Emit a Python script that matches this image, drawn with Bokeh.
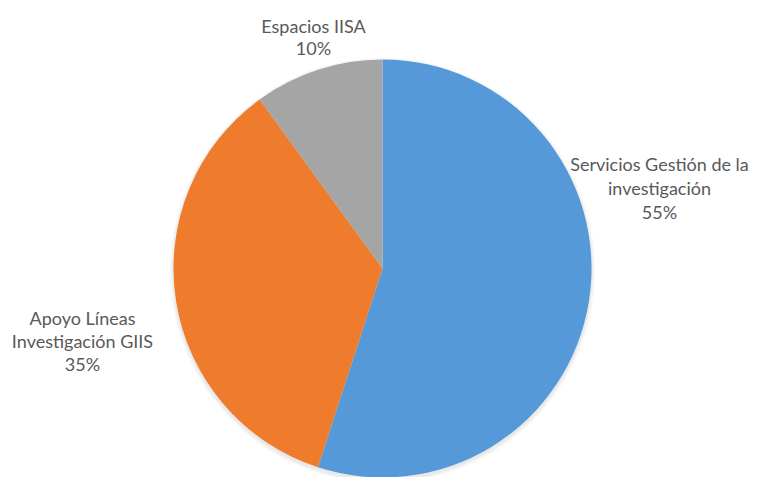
import numpy as np
from bokeh.plotting import figure
from bokeh.embed import file_html
from bokeh.resources import INLINE
from bokeh.core.properties import value
from bokeh.models import ColumnDataSource

# ---- data ----
categories = ["Servicios Gestión de la investigación", "Apoyo Líneas Investigación GIIS", "Espacios IISA"]
values = [55, 35, 10]
colors = ["#5599D8", "#EE7C2C", "#A5A5A5"]
label_lines = [["Servicios Gestión de la", "investigación"], ["Apoyo Líneas", "Investigación GIIS"], ["Espacios IISA"]]

W, H = 752, 477

def px(X, Y):
    # picture coordinates -> plot coordinates
    return X, H - Y

p = figure(width=W, height=H, x_range=(0, W), y_range=(0, H),
           output_backend="svg", toolbar_location=None, min_border=0)
p.axis.visible = False
p.grid.visible = False
p.outline_line_color = None
p.background_fill_color = "white"

cx, cy = px(382, 268)
R = 209

# soft shadow
for i, a in enumerate([0.06, 0.05, 0.04, 0.03]):
    p.circle(x=[cx], y=[cy - 2], radius=R + 1 + i, fill_color="#808080",
             fill_alpha=a, line_color=None)

total = float(sum(values))
fracs = np.array(values) / total
ends = np.pi / 2 - 2 * np.pi * np.cumsum(fracs)
starts = np.concatenate([[np.pi / 2], ends[:-1]])

src = ColumnDataSource(dict(start=starts, end=ends, color=colors, cat=categories))
p.wedge(x=cx, y=cy, radius=R, start_angle="start", end_angle="end",
        direction="clock", fill_color="color", line_color=None, source=src)

# labels
label_pos = [
    (659, [163, 187, 211]),
    (82, [317, 340, 363]),
    (313, [25, 47]),
]
tx, ty, tt = [], [], []
for lines, v, (X, Ys) in zip(label_lines, values, label_pos):
    texts = lines + [f"{round(100 * v / total)}%"]
    for t, Y in zip(texts, Ys):
        x, y = px(X, Y)
        tx.append(x); ty.append(y); tt.append(t)

p.text(x=tx, y=ty, text=tt, text_align="center", text_baseline="middle",
       text_font=value("Lato"), text_font_size="18px", text_color="#595959")

open("out.html", "w").write(file_html(p, INLINE))
